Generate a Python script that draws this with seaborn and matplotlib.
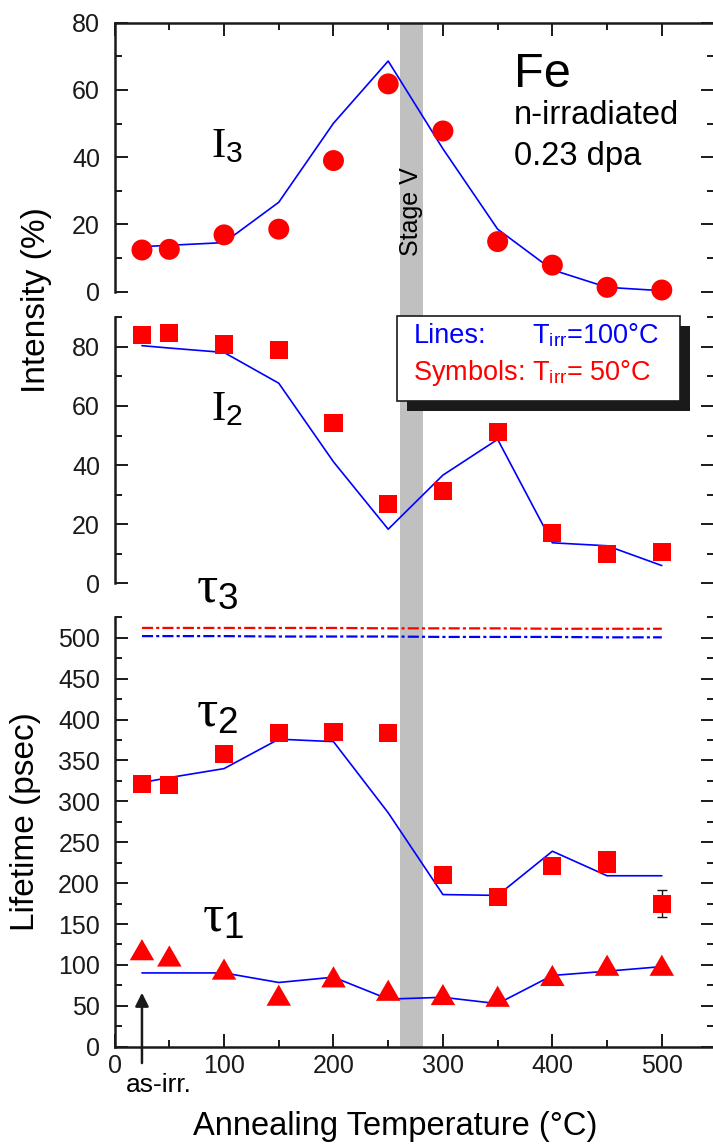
import matplotlib
matplotlib.use("Agg")
import matplotlib.pyplot as plt
import matplotlib.transforms as mtransforms
from matplotlib.patches import Rectangle
from matplotlib.ticker import MultipleLocator
import seaborn as sns

# ── data ─────────────────────────────────────────────────────────────────────
# annealing temperature (°C); 25 = as-irradiated
temps = [25, 50, 100, 150, 200, 250, 300, 350, 400, 450, 500]

# symbols: T_irr = 50°C
i3_sym = [12.4, 12.6, 16.9, 18.6, 39.0, 61.8, 47.8, 14.9, 7.9, 1.3, 0.5]
i2_sym = [84.0, 84.8, 80.8, 78.8, 54.1, 26.7, 31.2, 51.3, 17.1, 9.9, 10.5]
tau2_temps = [25, 50, 100, 150, 200, 250, 300, 350, 400, 450, 450, 500]
tau2_sym = [321, 320, 358, 384, 385, 383, 210, 183, 221, 228, 223, 175]
tau1_sym = [118.6, 110.9, 94.9, 63.0, 85.4, 69.0, 63.8, 61.7, 87.1, 99.6, 99.6]
tau3_sym = [512, 512, 512, 512, 512, 511.5, 511.5, 511.5, 511, 511, 511]
err_temp, err_val, err_size = 500, 175, 17

# lines: T_irr = 100°C
i3_line = [13.4, 13.8, 14.6, 26.6, 50.1, 68.6, 42.5, 18.6, 6.5, 1.3, 0.3]
i2_line = [80.4, 79.6, 78.1, 67.7, 41.1, 18.3, 36.6, 48.7, 13.7, 12.7, 6.0]
tau2_line = [323, 329, 340, 376, 373, 286, 186, 185, 239, 209, 209]
tau1_line = [90.2, 90.2, 90.2, 78.5, 85.0, 58.2, 60.4, 52.6, 87.1, 92.3, 97.9]
tau3_line = [502, 502, 502, 501.5, 501.5, 501.5, 501, 501, 501, 500.5, 500.5]

stage_v = (260.5, 281.5)

RED = "#ff0000"
BLUE = "#0000ff"

sns.set_theme(style="ticks")
plt.rcParams["font.family"] = ["Liberation Sans", "DejaVu Sans"]
plt.rcParams["mathtext.fontset"] = "custom"
plt.rcParams["mathtext.rm"] = "Liberation Serif"
plt.rcParams["mathtext.it"] = "Liberation Serif:italic"
plt.rcParams["mathtext.sf"] = "Liberation Sans"
plt.rcParams["axes.linewidth"] = 1.8
plt.rcParams["text.color"] = "black"
plt.rcParams["axes.labelcolor"] = "black"

W, H = 713, 1144
fig = plt.figure(figsize=(W / 100, H / 100), dpi=100)
left = 114.6 / W
width = (714 - 114.6) / W
ax_top = fig.add_axes([left, 1 - 291.7 / H, width, 269 / H])
ax_mid = fig.add_axes([left, 1 - 583.3 / H, width, 266 / H])
ax_bot = fig.add_axes([left, 1 - 1046.7 / H, width, 429.4 / H])

for ax in (ax_top, ax_mid, ax_bot):
    ax.set_facecolor("none")
    ax.set_xlim(0, 547.7)
    ax.xaxis.set_major_locator(MultipleLocator(100))
    ax.xaxis.set_minor_locator(MultipleLocator(50))
    ax.tick_params(which="both", direction="in", left=True, right=True,
                   width=1.4, colors="k", labelsize=18)
    ax.tick_params(which="major", length=9.5)
    ax.tick_params(which="minor", length=5)
    ax.tick_params(axis="y", pad=10.5)
    ax.tick_params(axis="x", pad=5)
    for s in ax.spines.values():
        s.set_color("k")

ax_top.spines["bottom"].set_visible(False)
ax_mid.spines["top"].set_visible(False)
ax_mid.spines["bottom"].set_visible(False)
ax_bot.spines["top"].set_visible(False)
ax_top.tick_params(axis="x", which="both", top=True, bottom=False,
                   labelbottom=False, labeltop=False)
ax_mid.tick_params(axis="x", which="both", top=False, bottom=False,
                   labelbottom=False)
ax_bot.tick_params(axis="x", which="both", top=False, bottom=True)

ax_top.set_ylim(0, 80)
ax_top.yaxis.set_major_locator(MultipleLocator(20))
ax_top.yaxis.set_minor_locator(MultipleLocator(10))
ax_mid.set_ylim(0, 90)
ax_mid.yaxis.set_major_locator(MultipleLocator(20))
ax_mid.yaxis.set_minor_locator(MultipleLocator(10))
ax_bot.set_ylim(0, 525)
ax_bot.yaxis.set_major_locator(MultipleLocator(50))
ax_bot.yaxis.set_minor_locator(MultipleLocator(25))

# ── stage V band through all panels ─────────────────────────────────────────
trans = mtransforms.blended_transform_factory(ax_bot.transData, fig.transFigure)
band = Rectangle((stage_v[0], 1 - 1046.7 / H), stage_v[1] - stage_v[0],
                 (1046.7 - 22.7) / H, transform=trans,
                 facecolor="#c0c0c0", edgecolor="none", zorder=-1)
fig.add_artist(band)

# ── lines (T_irr = 100°C) ───────────────────────────────────────────────────
line_kw = dict(color=BLUE, lw=1.2, estimator=None, sort=False, zorder=2)
sns.lineplot(x=temps, y=i3_line, ax=ax_top, **line_kw)
sns.lineplot(x=temps, y=i2_line, ax=ax_mid, **line_kw)
sns.lineplot(x=temps, y=tau2_line, ax=ax_bot, **line_kw)
sns.lineplot(x=temps, y=tau1_line, ax=ax_bot, **line_kw)
dash_dot = (5, 1.4, 1.4, 1.4)
ax_bot.plot(temps, tau3_line, color=BLUE, lw=1.6, dashes=dash_dot)
ax_bot.plot(temps, tau3_sym, color=RED, lw=1.6, dashes=dash_dot)

# ── symbols (T_irr = 50°C) ──────────────────────────────────────────────────
tri = [(-1, -0.866), (1, -0.866), (0, 0.866)]
sc_kw = dict(color=RED, edgecolor="none", legend=False, zorder=3, clip_on=False)
sns.scatterplot(x=temps, y=i3_sym, ax=ax_top, marker="o", s=228, **sc_kw)
sns.scatterplot(x=temps, y=i2_sym, ax=ax_mid, marker="s", s=169, **sc_kw)
sns.scatterplot(x=tau2_temps, y=tau2_sym, ax=ax_bot, marker="s", s=169, **sc_kw)
sns.scatterplot(x=temps, y=tau1_sym, ax=ax_bot, marker=tri, s=310, **sc_kw)
ax_bot.errorbar([err_temp], [err_val], yerr=[err_size], fmt="none",
                ecolor="k", elinewidth=1.0, capsize=3.5, capthick=1.0, zorder=2)

for ax in (ax_top, ax_mid, ax_bot):
    ax.set_xlabel("")
    ax.set_ylabel("")

ax_bot.set_xticks([0, 100, 200, 300, 400, 500])

# ── texts ───────────────────────────────────────────────────────────────────
top_tr = mtransforms.blended_transform_factory(ax_top.transData, ax_top.transAxes)
ax_top.text(sum(stage_v) / 2, 0.296, "Stage V", rotation=90, ha="center",
            va="center", transform=top_tr, fontsize=18)
ax_top.text(0.6658, 0.761, "Fe", transform=ax_top.transAxes, fontsize=35,
            va="baseline")
ax_top.text(0.6658, 0.6234, "n-irradiated", transform=ax_top.transAxes,
            fontsize=23.5, va="baseline")
ax_top.text(0.6658, 0.471, "0.23 dpa", transform=ax_top.transAxes,
            fontsize=23.5, va="baseline")

ax_top.text(88, 40.1, r"$\mathrm{I}_\mathsf{3}$", fontsize=31, va="baseline")
ax_mid.text(88, 55.2, r"$\mathrm{I}_\mathsf{2}$", fontsize=31, va="baseline")
ax_bot.text(74, 544, r"$\mathrm{\tau}_\mathsf{3}$", fontsize=38, va="baseline")
ax_bot.text(74, 391.5, r"$\mathrm{\tau}_\mathsf{2}$", fontsize=38, va="baseline")
ax_bot.text(80, 140.2, r"$\mathrm{\tau}_\mathsf{1}$", fontsize=38, va="baseline")

# legend-like box with shadow
bx, by, bw, bh = 0.4719, 0.6865, 0.4714, 0.3195
dx, dy = 10 / 599.4, 10 / 266
ax_mid.add_patch(Rectangle((bx + dx, by - dy), bw, bh, transform=ax_mid.transAxes,
                           facecolor="k", edgecolor="none", clip_on=False, zorder=5))
ax_mid.add_patch(Rectangle((bx, by), bw, bh, transform=ax_mid.transAxes,
                           facecolor="white", edgecolor="k", lw=1.2,
                           clip_on=False, zorder=6))
ax_mid.text(0.4984, 0.9045, "Lines:", color=BLUE, fontsize=19.5,
            transform=ax_mid.transAxes, va="baseline", zorder=7)
ax_mid.text(0.6958, 0.9045, r"T$_\mathsf{irr}$=100°C", color=BLUE, fontsize=19.5,
            transform=ax_mid.transAxes, va="baseline", zorder=7)
ax_mid.text(0.4984, 0.7643, r"Symbols: T$_\mathsf{irr}$= 50°C", color=RED,
            fontsize=19.5, transform=ax_mid.transAxes, va="baseline", zorder=7)

# as-irradiated marker
bot_tr = mtransforms.blended_transform_factory(ax_bot.transData, ax_bot.transAxes)
ax_bot.annotate("", xy=(temps[0], 66), xytext=(temps[0], -20),
                arrowprops=dict(arrowstyle="-|>", color="k", lw=1.8,
                                shrinkA=0, shrinkB=0, mutation_scale=20),
                annotation_clip=False)
ax_bot.text(40.7, -0.1048, "as-irr.", transform=bot_tr, ha="center",
            va="baseline", fontsize=19)

# axis labels
fig.text(37 / W, 1 - 300 / H, "Intensity (%)", rotation=90, ha="center",
         va="center", fontsize=24)
fig.text(26 / W, 1 - 822 / H, "Lifetime (psec)", rotation=90, ha="center",
         va="center", fontsize=24)
fig.text(395 / W, 1 - 1135 / H, "Annealing Temperature (°C)", ha="center",
         va="baseline", fontsize=23.5)

fig.savefig("out.png", dpi=100)
